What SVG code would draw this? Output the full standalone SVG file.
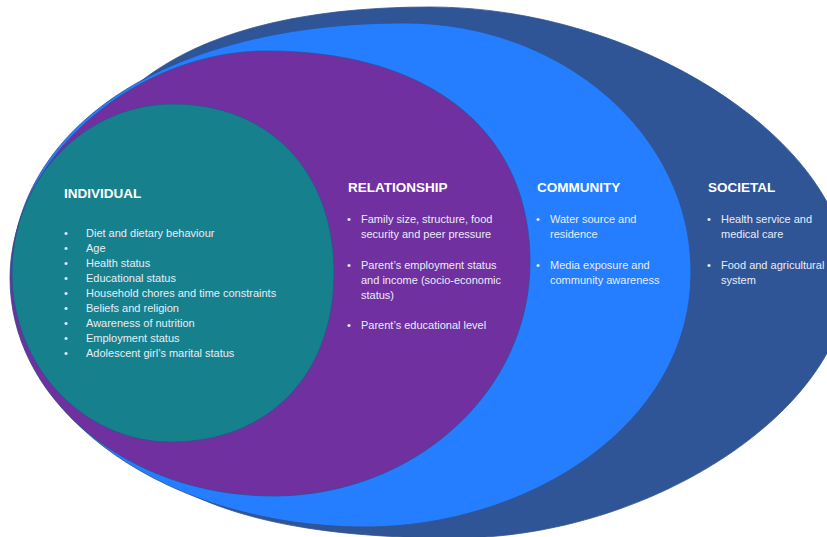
<svg xmlns="http://www.w3.org/2000/svg" width="827" height="537" viewBox="0 0 827 537">
  <style>
    .ring { stroke: #2f528f; stroke-width: 0.8; }
    .title { font-family: "Liberation Sans", Arial, sans-serif; font-size: 13.5px; font-weight: bold; fill: #ffffff; }
    .item { font-family: "Liberation Sans", Arial, sans-serif; font-size: 11px; fill: #e9ecf6; }
  </style>
  <rect width="827" height="537" fill="#ffffff"/>

  <!-- Societal layer (outermost, runs off the right edge) -->
  <g id="societal">
    <path class="ring" fill="#2f5597" d="M430,7 C639,7 848,142.5 848,278 C848,408 651.5,538 455,538 C198,538 60,470 60,260 C60,70.25 226.5,7 430,7 Z"/>
  </g>

  <!-- Community layer -->
  <g id="community">
    <path class="ring" fill="#257dff" d="M405,23 C562.3,23 691,135 691,272 C691,425 528,527 365,527 C169.5,527 11,416.4 11,280 C11,125.8 168.6,23 405,23 Z"/>
  </g>

  <!-- Relationship layer -->
  <g id="relationship">
    <path class="ring" fill="#7030a0" d="M267,51 C430,51 530,131.2 530,262 C530,391.2 414.9,496 273,496 C127.7,496 10,398.4 10,278 C10,160 133.4,51 267,51 Z"/>
  </g>

  <!-- Individual layer (innermost) -->
  <g id="individual">
    <path class="ring" fill="#16818d" d="M173,104 C269.6,104 334,171.6 334,273 C334,374.4 268.8,442 171,442 C83.2,442 12,366.3 12,273 C12,179.7 84.1,104 173,104 Z"/>
  </g>

  <!-- Labels -->
  <g id="individual-text">
    <text class="title" x="64" y="198">INDIVIDUAL</text>
    <g class="item">
      <text x="64" y="237">•</text><text x="86" y="237">Diet and dietary behaviour</text>
      <text x="64" y="252">•</text><text x="86" y="252">Age</text>
      <text x="64" y="267">•</text><text x="86" y="267">Health status</text>
      <text x="64" y="282">•</text><text x="86" y="282">Educational status</text>
      <text x="64" y="297">•</text><text x="86" y="297">Household chores and time constraints</text>
      <text x="64" y="312">•</text><text x="86" y="312">Beliefs and religion</text>
      <text x="64" y="327">•</text><text x="86" y="327">Awareness of nutrition</text>
      <text x="64" y="342">•</text><text x="86" y="342">Employment status</text>
      <text x="64" y="357">•</text><text x="86" y="357">Adolescent girl’s marital status</text>
    </g>
  </g>

  <g id="relationship-text">
    <text class="title" x="348" y="192">RELATIONSHIP</text>
    <g class="item">
      <text x="347" y="223">•</text><text x="361" y="223">Family size, structure, food</text>
      <text x="361" y="238">security and peer pressure</text>
      <text x="347" y="269">•</text><text x="361" y="269">Parent’s employment status</text>
      <text x="361" y="284">and income (socio-economic</text>
      <text x="361" y="299">status)</text>
      <text x="347" y="329">•</text><text x="361" y="329">Parent’s educational level</text>
    </g>
  </g>

  <g id="community-text">
    <text class="title" x="537" y="192">COMMUNITY</text>
    <g class="item">
      <text x="536" y="223">•</text><text x="550" y="223">Water source and</text>
      <text x="550" y="238">residence</text>
      <text x="536" y="269">•</text><text x="550" y="269">Media exposure and</text>
      <text x="550" y="284">community awareness</text>
    </g>
  </g>

  <g id="societal-text">
    <text class="title" x="708" y="192">SOCIETAL</text>
    <g class="item">
      <text x="707" y="223">•</text><text x="721" y="223">Health service and</text>
      <text x="721" y="238">medical care</text>
      <text x="707" y="269">•</text><text x="721" y="269">Food and agricultural</text>
      <text x="721" y="284">system</text>
    </g>
  </g>
</svg>
